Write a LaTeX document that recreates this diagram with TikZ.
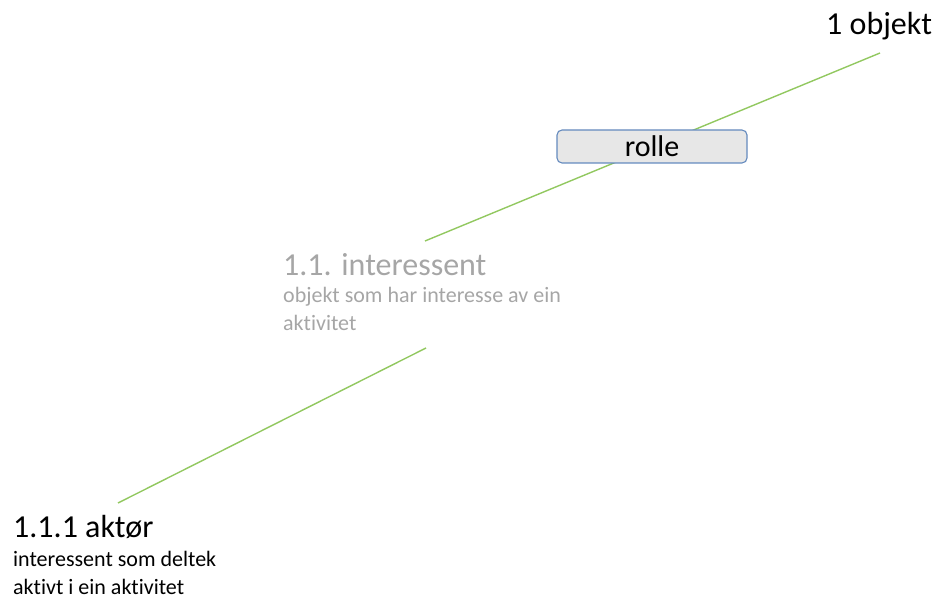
\documentclass[tikz,border=0pt]{standalone}
\usepackage{fontspec}
\setmainfont[Ligatures=NoCommon]{Carlito}
\usetikzlibrary{positioning}
\definecolor{linkgreen}{RGB}{146,200,96}
\definecolor{paletext}{RGB}{166,166,166}
\definecolor{rolefill}{RGB}{231,231,231}
\definecolor{roleedge}{RGB}{100,138,190}

\begin{document}
\begin{tikzpicture}[x=1pt,y=-1pt,
  title/.style={inner sep=0pt,anchor=base west,font=\fontsize{32}{36}\selectfont},
  descr/.style={inner sep=0pt,anchor=base west,align=left,font=\fontsize{22}{28}\selectfont},
  link/.style={draw=linkgreen,line width=1.4pt},
  rolebox/.style={draw=roleedge,fill=rolefill,line width=1.1pt,rounded corners=5pt,
    minimum width=190pt,minimum height=33pt,inner sep=0pt,font=\fontsize{30}{34}\selectfont}]
\useasboundingbox (0,0) rectangle (940,601);

% lines behind the text
\coordinate (objLo) at (880,53);
\coordinate (intHi) at (425,241);
\coordinate (intLo) at (426,348);
\coordinate (aktHi) at (118,503);
\draw[link] (objLo) -- (intHi);
\draw[link] (intLo) -- (aktHi);

% role on the upper link
\node[rolebox] (rolle) at (652,146.5) {rolle};

% concepts (descr nodes sit on their last baseline)
\node[title] (objekt) at (826,35) {1 objekt};
\node[title,text=paletext] (interessent) at (283,276) {1.1. interessent};
\node[descr,text=paletext] (interessentDef) at (283,331) {objekt som har interesse av ein\\aktivitet};
\node[title] (aktor) at (13,537) {1.1.1 aktør};
\node[descr] (aktorDef) at (13,594) {interessent som deltek\\aktivt i ein aktivitet};
\end{tikzpicture}
\end{document}
